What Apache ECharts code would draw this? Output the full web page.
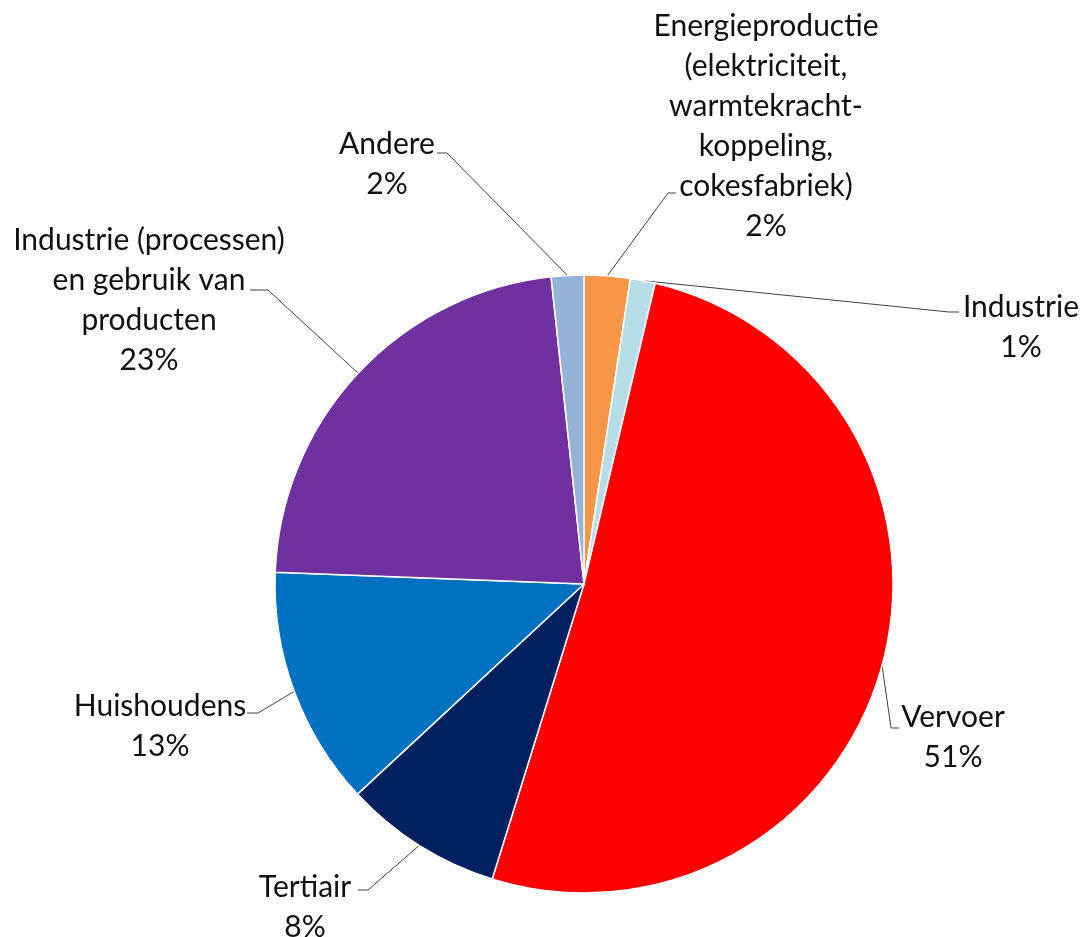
<!DOCTYPE html>
<html>
<head>
<meta charset="utf-8">
<script src="https://cdn.jsdelivr.net/npm/echarts@6/dist/echarts.min.js"></script>
<style>
  html, body { margin: 0; padding: 0; background: #ffffff; }
  #chart { width: 1083px; height: 937px; }
</style>
</head>
<body>
<div id="chart"></div>
<script>
// Emission shares per sector (percent), clockwise from 12 o'clock
const categories = [
  'Energieproductie\n(elektriciteit,\nwarmtekracht-\nkoppeling,\ncokesfabriek)',
  'Industrie',
  'Vervoer',
  'Tertiair',
  'Huishoudens',
  'Industrie (processen)\nen gebruik van\nproducten',
  'Andere'
];
const shares = [2.4, 1.3, 51.1, 8.3, 12.5, 22.7, 1.7];
const sliceColors = ['#F79646', '#B7DEE8', '#FF0000', '#002060', '#0070C0', '#7030A0', '#95B3D7'];

// Label placement: centre of the text block, leader elbow and leader end
const labelSpots = [
  { cx: 766, cy: 126, elbow: [668, 193], end: [676, 193] },
  { cx: 1021, cy: 327, elbow: [949, 312], end: [959, 312] },
  { cx: 953, cy: 737, elbow: [891, 728], end: [899, 728] },
  { cx: 305, cy: 907, elbow: [368, 890], end: [358, 890] },
  { cx: 160, cy: 726, elbow: [258, 713], end: [247, 713] },
  { cx: 149, cy: 300, elbow: [268, 290], end: [250, 290] },
  { cx: 387, cy: 164, elbow: [447, 153], end: [437, 153] }
];

const chart = echarts.init(document.getElementById('chart'), null, { renderer: 'canvas' });

chart.setOption({
  backgroundColor: '#ffffff',
  animation: false,
  series: [{
    type: 'pie',
    center: [584, 584],
    radius: 309,
    startAngle: 90,
    clockwise: true,
    avoidLabelOverlap: false,
    percentPrecision: 0,
    itemStyle: { borderColor: '#ffffff', borderWidth: 1.5 },
    label: {
      show: true,
      position: 'outside',
      formatter: '{b}\n{d}%',
      fontFamily: 'Lato',
      fontSize: 30,
      lineHeight: 40,
      color: '#111111'
    },
    labelLine: {
      show: true,
      length: 10,
      length2: 10,
      lineStyle: { color: '#404040', width: 1 }
    },
    labelLayout: function (p) {
      const s = labelSpots[p.dataIndex];
      const anchor = p.labelLinePoints ? p.labelLinePoints[0] : s.elbow;
      return {
        x: s.cx,
        y: s.cy,
        align: 'center',
        verticalAlign: 'middle',
        labelLinePoints: [anchor, s.elbow, s.end]
      };
    },
    data: categories.map(function (name, i) {
      return { name: name, value: shares[i], itemStyle: { color: sliceColors[i] } };
    })
  }]
});
</script>
</body>
</html>
